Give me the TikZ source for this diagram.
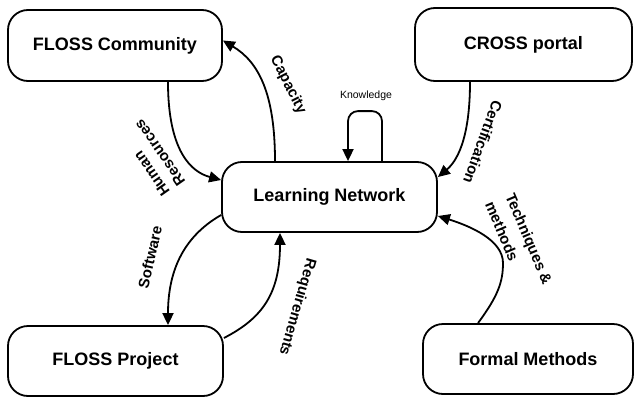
\documentclass[tikz,border=0pt]{standalone}
\usepackage{fontspec}
\setmainfont{Liberation Sans}
\usetikzlibrary{arrows.meta}
\begin{document}
\begin{tikzpicture}[x=1pt,y=-1pt,
  box/.style={draw, line width=1.8pt, rounded corners=20pt, inner sep=0pt,
    font=\bfseries\fontsize{18}{21}\selectfont},
  conn/.style={line width=1.8pt, -{Triangle[length=12pt,width=11pt]}},
  lab/.style={font=\bfseries\fontsize{15}{18}\selectfont, inner sep=0pt},
  smalllab/.style={font=\fontsize{10.5}{12}\selectfont, inner sep=0pt}
]
\useasboundingbox (0,0) rectangle (635,399);
% boxes
\node[box, minimum width=214pt, minimum height=71pt] (fc) at (115,45.5) {FLOSS Community};
\node[box, minimum width=217pt, minimum height=73pt] (cp) at (523.5,44.5) {CROSS portal};
\node[box, minimum width=215pt, minimum height=70pt] (ln) at (329.5,197) {Learning Network};
\node[box, minimum width=215pt, minimum height=70pt] (fp) at (115.5,361) {FLOSS Project};
\node[box, minimum width=210pt, minimum height=70pt] (fm) at (528,359) {Formal Methods};
% connectors
\draw[conn] ([xshift=53pt]fc.south) .. controls +(0,69) and +(-30,-8) .. ([yshift=17pt]ln.west);
\draw[conn] ([xshift=-54.5pt]ln.north) .. controls +(0,-67) and +(36,21.5) .. ([yshift=5pt]fc.east);
\draw[conn, rounded corners=10pt] ([xshift=52.5pt]ln.north) -- ++(0,-50) -| ([xshift=18.5pt]ln.north);
\draw[conn] ([xshift=-53.5pt]cp.south) .. controls +(0,59) and +(18,-15) .. ([yshift=20pt]ln.east);
\draw[conn] ([xshift=-50pt]fm.north) .. controls (498,296) and (503,282) .. (503,263)
   .. controls (503,240) and (470,226) .. ([yshift=-19pt]ln.east);
\draw[conn] ([yshift=-18pt]ln.west) .. controls +(-40,23) and +(0,-51) .. ([xshift=52.5pt]fp.north);
\draw[conn] ([yshift=23pt]fp.east) .. controls +(39,-20) and +(0,60) .. ([xshift=-49.5pt]ln.south);
% labels
\node[lab, rotate=125, align=left, font=\bfseries\fontsize{15}{19}\selectfont] (lhr) at (152,158) {Human\\Resources};
\node[lab, rotate=-63] (lcap) at (288,85) {Capacity};
\node[smalllab] (lkn) at (366,96) {Knowledge};
\node[lab, rotate=-110] (lcert) at (483,142) {Certification};
\node[lab, rotate=-67, align=left, font=\bfseries\fontsize{15}{22}\selectfont] (ltm) at (519,243) {Techniques \&\\methods};
\node[lab, rotate=77] (lsw) at (150,257) {Software};
\node[lab, rotate=-106] (lreq) at (297,307) {Requirements};
\end{tikzpicture}
\end{document}
